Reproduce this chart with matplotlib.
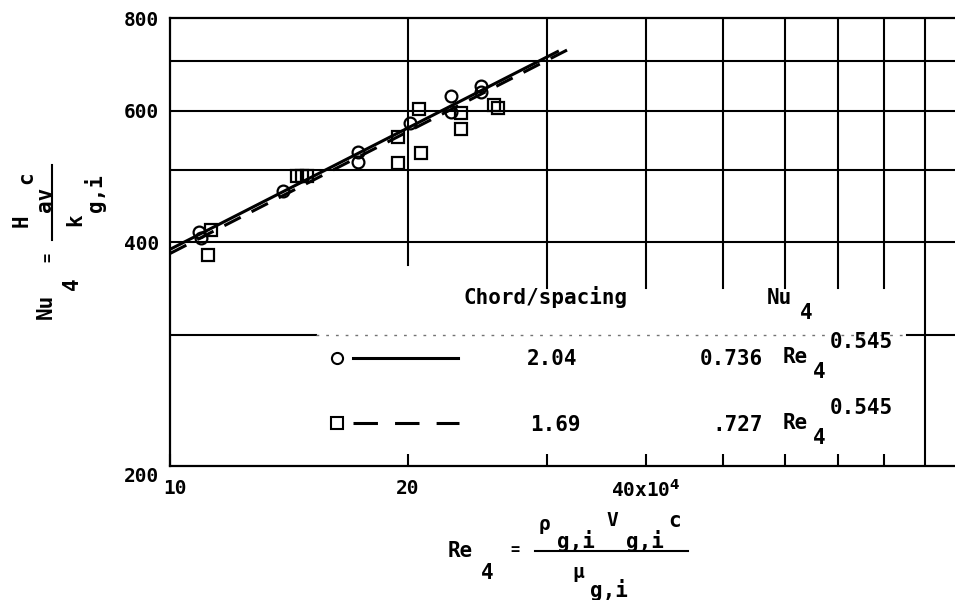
import numpy as np
import matplotlib.pyplot as plt
from matplotlib.ticker import NullFormatter
import matplotlib.transforms as mtransforms

plt.rcParams['font.family'] = ['DejaVu Sans Mono', 'DejaVu Sans']
plt.rcParams['font.weight'] = 'bold'
plt.rcParams['mathtext.fontset'] = 'dejavusans'
plt.rcParams['mathtext.default'] = 'bf'

# datos (Re4 en unidades de 10^4)
re_circ = [10.88, 10.95, 13.9, 17.3, 17.3, 20.1, 22.66, 22.66, 24.7, 24.7]
nu_circ = [412, 405, 469, 528, 513, 578, 628, 598, 648, 636]

re_sq = [11.27, 11.17, 14.47, 14.68, 14.9, 19.4, 19.4, 20.65, 20.75, 23.3, 23.3, 25.7, 26.0]
nu_sq = [415, 384, 491, 491, 491, 553, 511, 603, 527, 596, 567, 611, 606]

# rectas de ajuste (extremos)
fit1_re = [10, 30.9]
fit1_nu = [391, 721]
fit2_re = [10, 32.3]
fit2_nu = [386, 731]

xticks = [10, 20, 40]
xlabels = ['10', '20', '40x10$^4$']
xminor = [30, 50, 60, 70, 80]
yticks = [200, 400, 600, 800]
ylabels = ['200', '400', '600', '800']
ygrid = [300, 400, 500, 600, 700]
xgrid = [20, 30, 40, 50, 60, 70, 80, 90]

ratio = ['2.04', '1.69']
coef = ['0.736', '.727']
expo = ['0.545', '0.545']

W, H = 955, 600
FS = 15


def px(x, y):
    return x / W, 1 - y / H


fig = plt.figure(figsize=(9.55, 6.0), dpi=100)
ax = fig.add_axes([170 / W, 1 - 466 / H, 1 - 170 / W, (466 - 18) / H])
ax.set_xscale('log')
ax.set_yscale('log')
ax.set_xlim(10, 98.3)
ax.set_ylim(200, 800)

# rejilla
for y in ygrid[1:]:
    ax.plot([10, 98.3], [y, y], color='k', lw=1.5, zorder=1)
ax.plot([10, 15.3], [300, 300], color='k', lw=1.5, zorder=1)
ax.plot([85.5, 98.3], [300, 300], color='k', lw=1.5, zorder=1)
ax.plot([15.3, 85.5], [300, 300], color='0.45', lw=1.0, ls=(0, (2, 5)), zorder=1)
for x in xgrid:
    if x == 20:
        ylow = 372.6
    elif x == 90:
        ylow = 200
    else:
        ylow = 347
    ax.plot([x, x], [ylow, 800], color='k', lw=1.5, zorder=1)

# datos
ax.plot(re_circ, nu_circ, 'o', ms=8.5, mfc='none', mec='k', mew=1.6, zorder=3)
ax.plot(re_sq, nu_sq, 's', ms=8, mfc='none', mec='k', mew=1.6, zorder=3)
ax.plot(fit1_re, fit1_nu, color='k', lw=2.2, zorder=2)
ax.plot(fit2_re, fit2_nu, color='k', lw=2.2, ls=(0, (6, 4)), zorder=2)

ax.set_xticks(xticks, xlabels)
ax.set_xticks(xminor, minor=True)
ax.xaxis.set_minor_formatter(NullFormatter())
ax.set_yticks(yticks, ylabels)
ax.set_yticks([], minor=True)
ax.tick_params(axis='x', which='both', direction='in', length=9, width=1.5,
               labelsize=14, pad=9)
ax.tick_params(axis='y', which='both', length=0, labelsize=14, pad=8)

# el 200 va mas abajo
off = mtransforms.ScaledTranslation(0, -9 / 100, fig.dpi_scale_trans)
for lab in ax.get_yticklabels():
    if lab.get_text() == '200':
        lab.set_transform(lab.get_transform() + off)
off2 = mtransforms.ScaledTranslation(5 / 100, 0, fig.dpi_scale_trans)
for lab in ax.get_xticklabels():
    if lab.get_text() == '10':
        lab.set_transform(lab.get_transform() + off2)

for s in ['left', 'bottom', 'top']:
    ax.spines[s].set_linewidth(1.6)
ax.spines['right'].set_visible(False)

# leyenda
fig.text(*px(463, 297), 'Chord/spacing', fontsize=FS, va='center', ha='left')
fig.text(*px(767, 298), 'Nu', fontsize=FS, va='center', ha='left')
fig.text(*px(800, 313), '4', fontsize=FS, va='center', ha='left')

rows_y = [359, 425]
fig.lines.append(plt.Line2D([337 / W], [1 - 358 / H], marker='o', ms=8, mfc='none',
                            mec='k', mew=1.5, transform=fig.transFigure))
fig.lines.append(plt.Line2D([353 / W, 458 / W], [1 - 358 / H] * 2, color='k', lw=2.2,
                            transform=fig.transFigure))
fig.lines.append(plt.Line2D([337 / W], [1 - 423 / H], marker='s', ms=8, mfc='none',
                            mec='k', mew=1.5, transform=fig.transFigure))
fig.lines.append(plt.Line2D([353 / W, 459 / W], [1 - 423 / H] * 2, color='k', lw=2.2,
                            ls=(0, (8, 5.6)), transform=fig.transFigure))
for i in range(2):
    yy = rows_y[i]
    fig.text(*px(527 if i == 0 else 530, yy), ratio[i], fontsize=FS, va='center', ha='left')
    fig.text(*px(763, yy), coef[i], fontsize=FS, va='center', ha='right')
    fig.text(*px(783, yy - 2), 'Re', fontsize=FS, va='center', ha='left')
    fig.text(*px(813, yy + 13), '4', fontsize=FS, va='center', ha='left')
    fig.text(*px(830, yy - 17), expo[i], fontsize=FS, va='center', ha='left')

# etiqueta eje x
fig.text(*px(460, 551), 'Re', fontsize=FS, ha='center', va='center')
fig.text(*px(487, 573), '4', fontsize=FS, ha='center', va='center')
fig.text(*px(515, 549), '=', fontsize=11, ha='center', va='center')
fig.lines.append(plt.Line2D([535 / W, 688 / W], [1 - 551 / H] * 2, color='k', lw=1.5,
                            transform=fig.transFigure))
fig.text(*px(545, 524), 'ρ', fontsize=14, ha='center', va='center')
fig.text(*px(576, 541), 'g,i', fontsize=FS, ha='center', va='center')
fig.text(*px(612, 520), 'V', fontsize=14, ha='center', va='center')
fig.text(*px(645, 541), 'g,i', fontsize=FS, ha='center', va='center')
fig.text(*px(675, 521), 'c', fontsize=FS, ha='center', va='center')
fig.text(*px(578, 572), 'μ', fontsize=14, ha='center', va='center')
fig.text(*px(609, 590), 'g,i', fontsize=FS, ha='center', va='center')

# etiqueta eje y
fig.text(*px(46, 306), 'Nu', fontsize=FS, ha='center', va='center', rotation=90)
fig.text(*px(72, 284), '4', fontsize=FS, ha='center', va='center', rotation=90)
fig.text(*px(48, 257), '=', fontsize=11, ha='center', va='center', rotation=90)
fig.lines.append(plt.Line2D([52 / W] * 2, [1 - 165 / H, 1 - 240 / H], color='k', lw=1.5,
                            transform=fig.transFigure))
fig.text(*px(22, 221), 'H', fontsize=FS, ha='center', va='center', rotation=90)
fig.text(*px(45, 199), 'av', fontsize=FS, ha='center', va='center', rotation=90)
fig.text(*px(26, 178), 'c', fontsize=FS, ha='center', va='center', rotation=90)
fig.text(*px(75, 220), 'k', fontsize=FS, ha='center', va='center', rotation=90)
fig.text(*px(95, 193), 'g,i', fontsize=FS, ha='center', va='center', rotation=90)

fig.savefig('out.png', dpi=100)
